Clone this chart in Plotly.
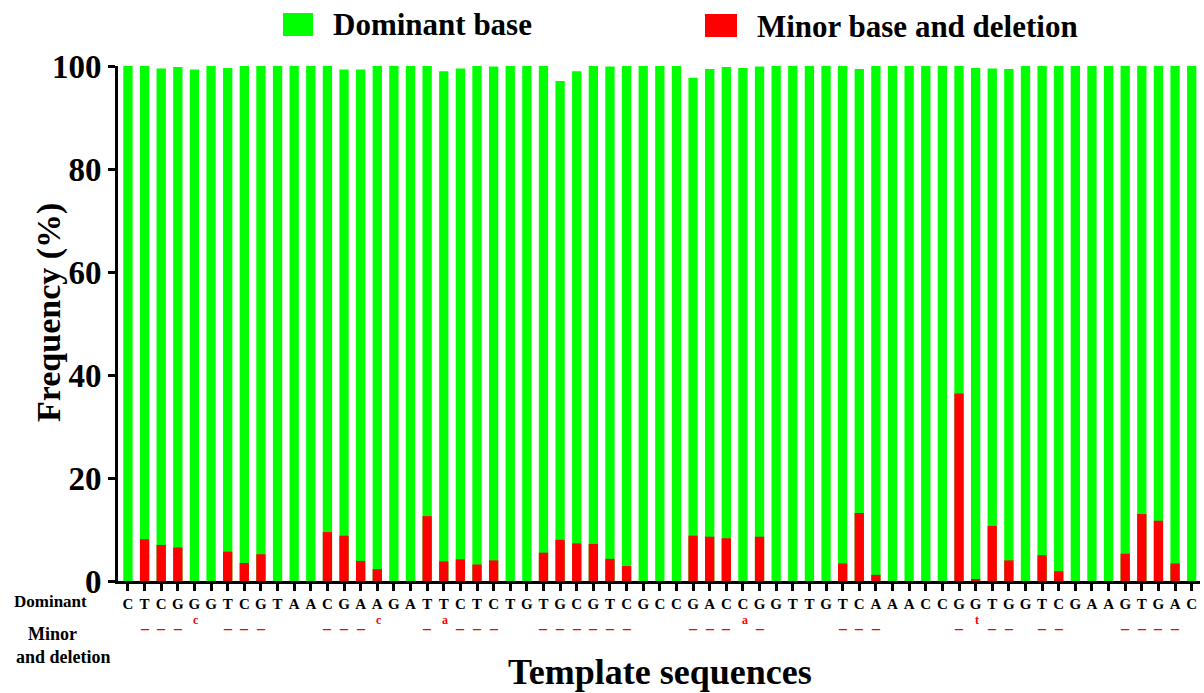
import plotly.graph_objects as go

dominant_base = list("CTCGGGTCGTAACGAAGATTCTCTGTGCGTCGCCGACCGGTTGTCAAACCGGTGGTCGAAGTGAC")

minor_label = ["", "_", "_", "_", "c", "", "_", "_", "_", "", "", "", "_", "_", "_", "c", "", "",
               "_", "a", "_", "_", "_", "", "", "_", "_", "_", "_", "_", "_", "", "", "",
               "_", "_", "_", "a", "_", "", "", "", "", "_", "_", "_", "", "", "", "",
               "_", "t", "_", "_", "", "_", "_", "", "", "", "_", "_", "_", "_", ""]

dominant_freq = [100, 100, 99.5, 99.8, 99.3, 100, 99.6, 100, 100, 100, 100, 100, 100, 99.3, 99.3,
                 100, 100, 100, 100, 99.0, 99.5, 100, 99.9, 100, 100, 100, 97.1, 99.0, 100, 99.9,
                 100, 100, 100, 100, 97.7, 99.4, 99.8, 99.6, 99.9, 100, 100, 100, 100, 100, 99.4,
                 100, 100, 100, 100, 100, 100, 99.6, 99.5, 99.4, 100, 100, 100, 100, 100, 100,
                 100, 100, 100, 100, 100]

minor_freq = [0, 8.1, 7.0, 6.5, 0, 0, 5.7, 3.5, 5.2, 0, 0, 0, 9.5, 8.8, 3.9, 2.3, 0, 0,
              12.6, 3.8, 4.2, 3.2, 4.0, 0, 0, 5.5, 8.0, 7.3, 7.2, 4.3, 2.9, 0, 0, 0,
              8.8, 8.6, 8.3, 0, 8.6, 0, 0, 0, 0, 3.4, 13.2, 1.2, 0, 0, 0, 0,
              36.4, 0.3, 10.7, 4.0, 0, 5.0, 1.9, 0, 0, 0, 5.3, 13.0, 11.7, 3.4, 0]

y_ticks = [0, 20, 40, 60, 80, 100]

W, H = 1204, 693
L, R, T, B = 118, 1200, 66, 581
FONT = "Liberation Serif"
GREEN = "#00FF00"
RED = "#FF0000"


def px(x):
    return (x - L) / (R - L)


def py(y):
    return (B - y) / (B - T)


xs = list(range(len(dominant_base)))

fig = go.Figure()
fig.add_trace(go.Bar(x=xs, y=dominant_freq, marker=dict(color=GREEN, line=dict(width=0)),
                     width=0.56, name="Dominant base", showlegend=False))
fig.add_trace(go.Bar(x=xs, y=minor_freq, marker=dict(color=RED, line=dict(width=0)),
                     width=0.56, name="Minor base and deletion", showlegend=False))

annotations = []
for i, lab in enumerate(minor_label):
    if not lab:
        continue
    if lab == "_":
        annotations.append(dict(x=i, xref="x", y=py(622), yref="paper", text=lab,
                                showarrow=False, font=dict(family=FONT, size=16, color=RED, weight="bold"),
                                xanchor="center", yanchor="middle"))
    else:
        annotations.append(dict(x=i + 0.1, xref="x", y=py(620), yref="paper", text=lab,
                                showarrow=False, font=dict(family=FONT, size=12, color=RED, weight="bold"),
                                xanchor="center", yanchor="middle"))

# legend (drawn manually to match large swatches)
shapes = [
    dict(type="rect", xref="paper", yref="paper", x0=px(283), x1=px(313), y0=py(36), y1=py(13),
         fillcolor=GREEN, line=dict(width=0)),
    dict(type="rect", xref="paper", yref="paper", x0=px(705), x1=px(737), y0=py(37), y1=py(14),
         fillcolor=RED, line=dict(width=0)),
]
annotations += [
    dict(x=px(331), y=py(25), xref="paper", yref="paper", text="Dominant base", showarrow=False,
         xanchor="left", yanchor="middle", font=dict(family=FONT, size=31, color="black", weight="bold")),
    dict(x=px(755), y=py(26), xref="paper", yref="paper", text="Minor base and deletion", showarrow=False,
         xanchor="left", yanchor="middle", font=dict(family=FONT, size=31, color="black", weight="bold")),
    dict(x=px(49), y=py(313), xref="paper", yref="paper", text="Frequency (%)", showarrow=False,
         textangle=-90, xanchor="center", yanchor="middle",
         font=dict(family=FONT, size=34, color="black", weight="bold")),
    dict(x=px(660), y=py(672), xref="paper", yref="paper", text="Template sequences", showarrow=False,
         xanchor="center", yanchor="middle", font=dict(family=FONT, size=36, color="black", weight="bold")),
    dict(x=px(50), y=py(601), xref="paper", yref="paper", text="Dominant", showarrow=False,
         xanchor="center", yanchor="middle", font=dict(family=FONT, size=17, color="black", weight="bold")),
    dict(x=px(52), y=py(634), xref="paper", yref="paper", text="Minor", showarrow=False,
         xanchor="center", yanchor="middle", font=dict(family=FONT, size=18, color="black", weight="bold")),
    dict(x=px(63), y=py(657), xref="paper", yref="paper", text="and deletion", showarrow=False,
         xanchor="center", yanchor="middle", font=dict(family=FONT, size=18, color="black", weight="bold")),
]

fig.update_layout(
    width=W, height=H,
    margin=dict(l=L, r=W - R, t=T, b=H - B, autoexpand=False),
    barmode="overlay",
    plot_bgcolor="white", paper_bgcolor="white",
    showlegend=False,
    shapes=shapes,
    annotations=annotations,
    xaxis=dict(
        range=[-0.6, len(xs) - 0.5],
        tickmode="array", tickvals=xs, ticktext=dominant_base,
        tickfont=dict(family=FONT, size=15, color="black", weight="bold"),
        ticks="outside", ticklen=7, tickwidth=2.5, tickcolor="black",
        showline=True, linecolor="black", linewidth=3,
        showgrid=False, zeroline=False, automargin=False, tickangle=0,
    ),
    yaxis=dict(
        range=[0, 100],
        tickmode="array", tickvals=y_ticks, ticktext=[str(v) for v in y_ticks],
        tickfont=dict(family=FONT, size=33, color="black", weight="bold"),
        ticks="outside", ticklen=7, tickwidth=3, tickcolor="black",
        showline=True, linecolor="black", linewidth=3,
        showgrid=False, zeroline=False, automargin=False,
    ),
)

fig.write_html("out.html")
